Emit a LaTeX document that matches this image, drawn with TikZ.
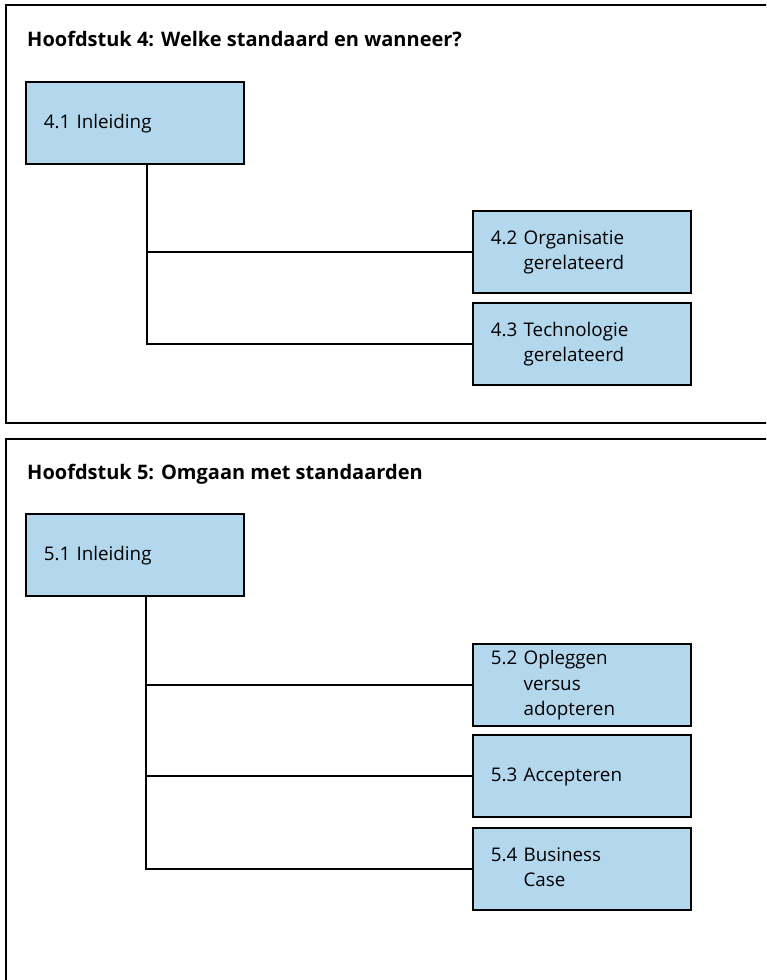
\documentclass[tikz,border=0pt]{standalone}
\usepackage{fontspec}
\setmainfont{Open Sans}
\usetikzlibrary{positioning}
\definecolor{vakblauw}{RGB}{179,215,236}
\newcommand{\nummer}[2]{\begin{tabular}[c]{@{}l@{\ }l@{}}#1 & #2\end{tabular}}

\begin{document}
\begin{tikzpicture}[x=1pt, y=-1pt,
    kader/.style={line width=2pt},
    kop/.style={anchor=base west, inner sep=0pt, font=\bfseries\fontsize{20}{24}\selectfont},
    vak/.style={draw, line width=1.7pt, fill=vakblauw, anchor=north west,
        inner xsep=18pt, inner ysep=2pt, text width=182pt, minimum height=82pt,
        align=left, font=\fontsize{18.8}{25.8}\selectfont},
    lijn/.style={line width=1.7pt}]
  \useasboundingbox (0,0) rectangle (766,980);
  \clip (0,0) rectangle (766,980);

  % Hoofdstuk 4
  \draw[kader] (6,5) rectangle (790,423);
  \node[kop] (kop4) at (27,46.5) {Hoofdstuk 4: Welke standaard en wanneer?};
  \node[vak] (inl4) at (25,81) {\nummer{4.1}{Inleiding}};
  \node[vak] (org4) at (472,210) {\nummer{4.2}{Organisatie\\ & gerelateerd}};
  \node[vak] (tech4) at (472,302) {\nummer{4.3}{Technologie\\ & gerelateerd}};
  \coordinate (stam4) at (inl4.south -| 147,0);
  \draw[lijn] (stam4) |- (org4.west);
  \draw[lijn] (stam4) |- (tech4.west);

  % Hoofdstuk 5
  \draw[kader] (6,439) rectangle (790,1000);
  \node[kop] (kop5) at (27,479) {Hoofdstuk 5: Omgaan met standaarden};
  \node[vak] (inl5) at (25,513) {\nummer{5.1}{Inleiding}};
  \node[vak] (opl5) at (472,643) {\nummer{5.2}{Opleggen\\ & versus\\ & adopteren}};
  \node[vak] (acc5) at (472,734) {\nummer{5.3}{Accepteren}};
  \node[vak] (bus5) at (472,827) {\nummer{5.4}{Business\\ & Case}};
  \coordinate (stam5) at (inl5.south -| 146,0);
  \draw[lijn] (stam5) |- (opl5.west);
  \draw[lijn] (stam5) |- (acc5.west);
  \draw[lijn] (stam5) |- (bus5.west);
\end{tikzpicture}
\end{document}
